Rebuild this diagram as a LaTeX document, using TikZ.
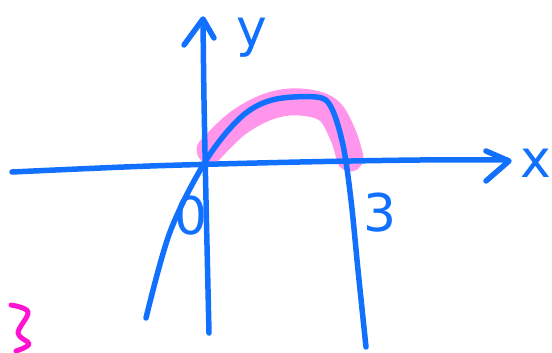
\documentclass[tikz,border=0pt]{standalone}
\usepackage{fontspec}
\setmainfont{DejaVu Sans}
\begin{document}
\begin{tikzpicture}[x=1pt,y=-1pt,
  pen/.style={draw=penblue,line width=5.5pt,line cap=round,line join=round},
  hl/.style={draw=hlpink,line width=27pt,line cap=round,line join=round},
  lbl/.style={text=penblue,font=\fontsize{52}{52}\selectfont,inner sep=0pt}]
\definecolor{penblue}{RGB}{18,112,255}
\definecolor{hlpink}{RGB}{255,150,235}
\definecolor{magentapen}{RGB}{255,20,210}
\useasboundingbox (0,0) rectangle (552,353);
% highlight
\draw[hl] plot[smooth,tension=0.6] coordinates {(210,150) (238,123) (270,106) (300,102) (328,110) (343,135) (350,158)};
% x axis
\draw[pen] plot[smooth] coordinates {(12,172) (150,166) (300,162) (420,160) (507,160)};
\draw[pen] (486,151) -- (509,161) -- (486,181);
% y axis
\draw[pen] plot[smooth] coordinates {(209,333) (206,200) (204,100) (203,20)};
\draw[pen] (184,45) -- (203,19) -- (214,38);
% curve
\draw[pen] plot[smooth,tension=0.55] coordinates {(146,318) (170,232) (205,162) (240,118) (272,100) (316,97) (331,107) (343,145) (351,200) (358,270) (366,347)};
% labels
\node[lbl] (ylab) at (252,38) {y};
\node[lbl] (xlab) at (536,163) {x};
\node[lbl] (zero) at (191,216) {0};
\node[lbl] (three) at (380,213) {3};
% squiggle
\draw[draw=magentapen,line width=5pt,line cap=round,line join=round] plot[smooth,tension=0.6] coordinates {(11,305) (28,312) (18,333) (29,344) (16,351)};
\end{tikzpicture}
\end{document}
